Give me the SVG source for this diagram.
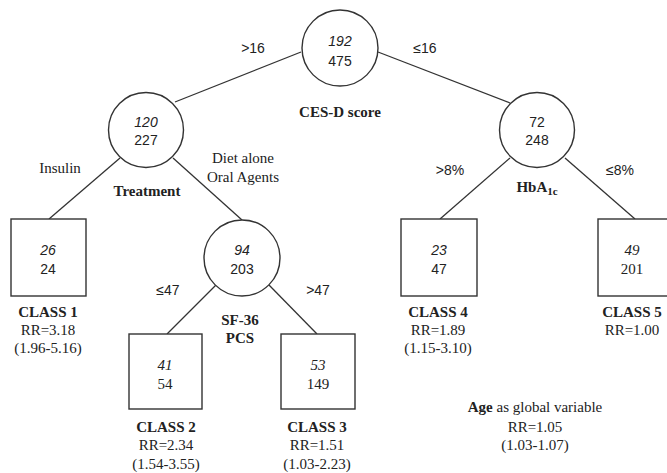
<svg xmlns="http://www.w3.org/2000/svg" width="667" height="473" viewBox="0 0 667 473">
<style>
.n{fill:#fff;stroke:#333;stroke-width:1.4}
.e line{stroke:#333;stroke-width:1.3}
text{fill:#222;text-anchor:middle}
.s{font-family:"Liberation Sans",Arial,sans-serif;font-size:14px}
.si{font-family:"Liberation Sans",Arial,sans-serif;font-size:14px;font-style:italic}
.t{font-family:"Liberation Serif","Times New Roman",serif;font-size:15px}
.ti{font-family:"Liberation Serif","Times New Roman",serif;font-size:15px;font-style:italic}
.b{font-family:"Liberation Serif","Times New Roman",serif;font-size:15px;font-weight:bold}
</style>
<rect width="667" height="473" fill="#fff"/>
<g class="e" id="connectors">
<line x1="301" y1="52" x2="175" y2="102"/>
<line x1="378" y1="52" x2="510" y2="103"/>
<line x1="120" y1="158" x2="49" y2="219"/>
<line x1="173" y1="158" x2="242" y2="220"/>
<line x1="510" y1="158" x2="440" y2="219"/>
<line x1="565" y1="158" x2="635" y2="219"/>
<line x1="216" y1="285" x2="167" y2="334"/>
<line x1="269" y1="285" x2="317" y2="334"/>
</g>
<g id="root">
<circle class="n" cx="340" cy="48" r="38"/>
<text class="si" x="340" y="46">192</text>
<text class="s" x="340" y="66">475</text>
<text class="b" x="340" y="117">CES-D score</text>
</g>
<g id="labels-root">
<text class="s" x="253" y="53">&gt;16</text>
<text class="s" x="425" y="53">≤16</text>
</g>
<g id="treatment">
<circle class="n" cx="146" cy="130" r="37.5"/>
<text class="si" x="146" y="127">120</text>
<text class="s" x="146" y="145">227</text>
<text class="b" x="147" y="196">Treatment</text>
<text class="t" x="60" y="173">Insulin</text>
<text class="t" x="243" y="163">Diet alone</text>
<text class="t" x="243" y="182">Oral Agents</text>
</g>
<g id="hba1c">
<circle class="n" cx="537" cy="130" r="37.5"/>
<text class="s" x="537" y="127">72</text>
<text class="s" x="537" y="145">248</text>
<text class="b" x="537" y="192">HbA<tspan font-size="11" dy="3">1c</tspan></text>
<text class="s" x="450" y="175">&gt;8%</text>
<text class="s" x="620" y="175">≤8%</text>
</g>
<g id="sf36">
<circle class="n" cx="242" cy="258" r="38"/>
<text class="si" x="242" y="255">94</text>
<text class="s" x="242" y="274">203</text>
<text class="b" x="240" y="325">SF-36</text>
<text class="b" x="240" y="343">PCS</text>
<text class="s" x="168" y="295">≤47</text>
<text class="s" x="318" y="295">&gt;47</text>
</g>
<g id="class1">
<rect class="n" x="11" y="219" width="75" height="77"/>
<text class="si" x="48" y="255">26</text>
<text class="s" x="48" y="274">24</text>
<text class="b" x="48" y="317">CLASS 1</text>
<text class="t" x="48" y="335">RR=3.18</text>
<text class="t" x="48" y="353">(1.96-5.16)</text>
</g>
<g id="class2">
<rect class="n" x="129" y="334" width="73" height="75"/>
<text class="ti" x="165" y="370">41</text>
<text class="t" x="165" y="389">54</text>
<text class="b" x="166" y="432">CLASS 2</text>
<text class="t" x="166" y="450">RR=2.34</text>
<text class="t" x="166" y="469">(1.54-3.55)</text>
</g>
<g id="class3">
<rect class="n" x="281" y="334" width="74" height="75"/>
<text class="ti" x="318" y="370">53</text>
<text class="t" x="318" y="389">149</text>
<text class="b" x="317" y="432">CLASS 3</text>
<text class="t" x="317" y="450">RR=1.51</text>
<text class="t" x="317" y="469">(1.03-2.23)</text>
</g>
<g id="class4">
<rect class="n" x="401" y="219" width="76" height="77"/>
<text class="si" x="439" y="255">23</text>
<text class="s" x="439" y="274">47</text>
<text class="b" x="438" y="317">CLASS 4</text>
<text class="t" x="438" y="335">RR=1.89</text>
<text class="t" x="438" y="353">(1.15-3.10)</text>
</g>
<g id="class5">
<rect class="n" x="598" y="219" width="75" height="77"/>
<text class="ti" x="632" y="255">49</text>
<text class="t" x="632" y="274">201</text>
<text class="b" x="632" y="317">CLASS 5</text>
<text class="t" x="632" y="335">RR=1.00</text>
</g>
<g id="age">
<text class="t" x="535" y="412"><tspan font-weight="bold">Age</tspan> as global variable</text>
<text class="t" x="535" y="432">RR=1.05</text>
<text class="t" x="535" y="450">(1.03-1.07)</text>
</g>
</svg>
